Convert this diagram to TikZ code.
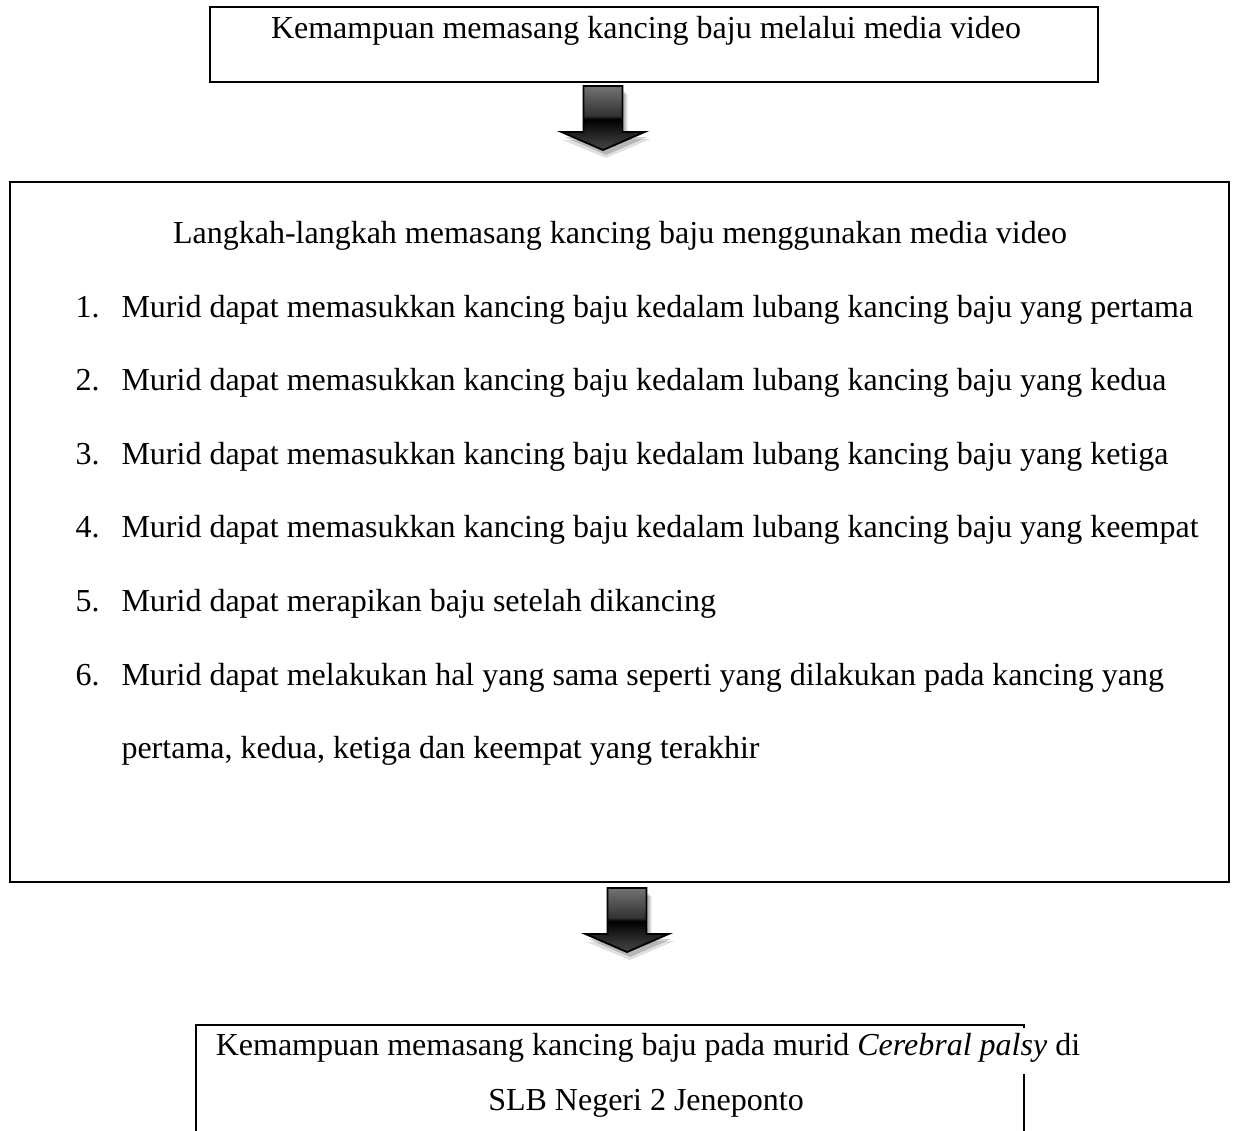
\documentclass[tikz,border=0pt]{standalone}
\usepackage{fontspec}
\setmainfont{Liberation Serif}
\usetikzlibrary{fit}
\pgfdeclareverticalshading{arrowshade}{100bp}{color(0bp)=(black!70); color(25bp)=(black!72); color(39bp)=(black!88); color(49bp)=(black); color(52bp)=(black!80); color(75bp)=(black!55); color(100bp)=(black!55)}
\tikzset{
  frame/.style={draw=black, line width=1.1pt, inner sep=0pt},
  txt/.style={anchor=base, inner sep=0pt, font=\fontsize{12pt}{14pt}\selectfont},
  lbl/.style={anchor=base west, inner sep=0pt, font=\fontsize{12pt}{14pt}\selectfont},
  blockarrow/.style={draw=black, line width=0.7pt, shading=arrowshade, line join=miter},
  arrowshadow/.style={fill=black, draw=none},
  downarrow/.pic={
    \fill[arrowshadow, opacity=0.12] (-19.5+5,8) -- (19.5+5,8) -- (19.5+5,46+7) -- (41.5+6,46+7) -- (0+3,64+8) -- (-41.5+1,46+8) -- (-19.5+5,46+8) -- cycle;
    \fill[arrowshadow, opacity=0.18] (-19.5+3,6) -- (19.5+3,6) -- (19.5+3,46+5) -- (41.5+3,46+5) -- (0+3,64+5) -- (-41.5+3,46+5) -- (-19.5+3,46+5) -- cycle;
    \shadedraw[blockarrow] (-19.5,0) -- (19.5,0) -- (19.5,46) -- (41.5,46) -- (0,64) -- (-41.5,46) -- (-19.5,46) -- cycle;
  }
}
\begin{document}
\begin{tikzpicture}[x=0.375pt,y=-0.375pt]
\clip (0,0) rectangle (1234,1130);
\fill[white] (0,0) rectangle (1234,1130);

% top box
\node[frame, fit={(210,7) (1098,82)}] (topbox) {};
\node[txt] (toptext) at (646,38) {Kemampuan memasang kancing baju melalui media video};

% first arrow
\pic (arrowA) at (603,86) {downarrow};

% middle box
\node[frame, fit={(10,182) (1229,882)}] (midbox) {};
\node[txt] (head) at (620,243) {Langkah-langkah memasang kancing baju menggunakan media video};
\node[lbl] (n1) at (75,317) {1.};
\node[lbl] (i1) at (121,317) {Murid dapat memasukkan kancing baju kedalam lubang kancing baju yang pertama};
\node[lbl] (n2) at (75,390.6) {2.};
\node[lbl] (i2) at (121,390.6) {Murid dapat memasukkan kancing baju kedalam lubang kancing baju yang kedua};
\node[lbl] (n3) at (75,464.2) {3.};
\node[lbl] (i3) at (121,464.2) {Murid dapat memasukkan kancing baju kedalam lubang kancing baju yang ketiga};
\node[lbl] (n4) at (75,537.8) {4.};
\node[lbl] (i4) at (121,537.8) {Murid dapat memasukkan kancing baju kedalam lubang kancing baju yang keempat};
\node[lbl] (n5) at (75,611.4) {5.};
\node[lbl] (i5) at (121,611.4) {Murid dapat merapikan baju setelah dikancing};
\node[lbl] (n6) at (75,685) {6.};
\node[lbl] (i6) at (121,685) {Murid dapat melakukan hal yang sama seperti yang dilakukan pada kancing yang};
\node[lbl] (i6b) at (121,758.6) {pertama, kedua, ketiga dan keempat yang terakhir};

% second arrow
\pic (arrowB) at (627,888) {downarrow};

% bottom box (cut off at the lower edge); first text line overflows the right side
\node[frame, fit={(196,1025) (1024,1160)}] (botbox) {};
\node[txt, fill=white, text height=10pt, text depth=7pt] (bot1) at (648,1055) {Kemampuan memasang kancing baju pada murid \textit{Cerebral palsy} di};
\node[txt] (bot2) at (646,1110) {SLB Negeri 2 Jeneponto};
\end{tikzpicture}
\end{document}
